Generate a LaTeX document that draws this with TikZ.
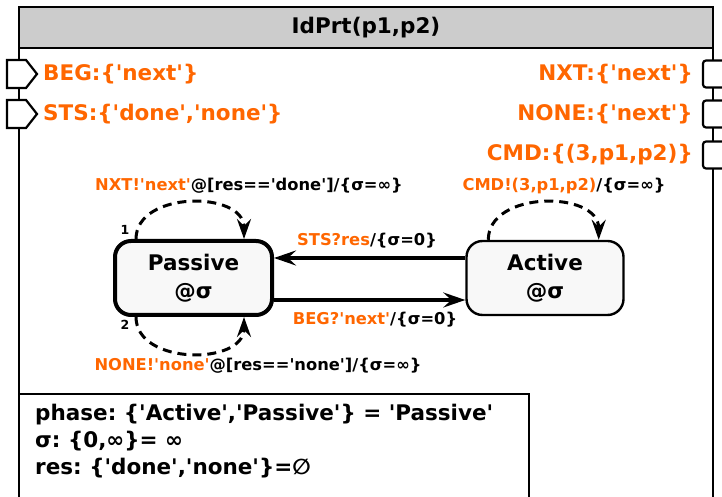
\documentclass[tikz,border=0pt]{standalone}
\usepackage{fontspec}
\setmainfont{DejaVu Sans}[Ligatures=TeXOff]
\usetikzlibrary{arrows.meta, positioning}

\definecolor{portorange}{HTML}{FF6600}
\definecolor{kopfgrau}{HTML}{CCCCCC}
\definecolor{zustandgrau}{HTML}{F8F8F8}

\newcommand{\grossschrift}{\bfseries\fontsize{21.5}{28}\selectfont}
\newcommand{\kleinschrift}{\bfseries\fontsize{16.3}{19}\selectfont}
\newcommand{\orng}[1]{\textcolor{portorange}{#1}}

\begin{document}
\frenchspacing
\begin{tikzpicture}[x=1pt, y=1pt, >={Stealth[length=22pt, width=15pt, inset=8pt]},
        zustand/.style={draw, line width=2.4pt, rounded corners=16pt, fill=zustandgrau,
            minimum width=157pt, minimum height=74pt, align=center, font=\grossschrift},
        startzustand/.style={zustand, line width=4pt},
        uebergang/.style={->, line width=3.2pt},
        schleife/.style={-{Stealth[length=20pt, width=14pt, inset=7pt, quick]}, line width=3pt, dash pattern=on 9pt off 6pt},
        beschriftung/.style={font=\kleinschrift, inner sep=0pt},
        portlabel/.style={font=\grossschrift, text=portorange, inner sep=0pt},
        zustvar/.style={font=\grossschrift, inner sep=0pt, anchor=west},
        nummer/.style={font=\bfseries\fontsize{12.5}{14}\selectfont, inner sep=0pt}]
        \useasboundingbox (0,0) rectangle (722,497);

        % Rahmen mit Kopfzeile
        \draw[line width=2.6pt, fill=kopfgrau] (19,449) rectangle (713,490);
        \draw[line width=2.6pt] (19,449) -- (19,-5) (713,449) -- (713,-5);
        \node[font=\grossschrift] (titel) at (366,469.5) {IdPrt(p1,p2)};

        % Eingangsports (links)
        \foreach \y in {423,383}
            \draw[line width=2.2pt, fill=white] (7,\y+14) -- (26,\y+14) -- (37,\y) -- (26,\y-14) -- (7,\y-14) -- cycle;
        \node[portlabel, anchor=west] (beg) at (43,423) {BEG:\{'next'\}};
        \node[portlabel, anchor=west] (sts) at (43,383) {STS:\{'done','none'\}};

        % Ausgangsports (rechts)
        \foreach \y in {423,383,342}
            \draw[line width=2.2pt, fill=white, rounded corners=3pt] (703,\y-13.5) rectangle (730,\y+13.5);
        \node[portlabel, anchor=east] (nxt) at (693,423) {NXT:\{'next'\}};
        \node[portlabel, anchor=east] (none) at (693,383) {NONE:\{'next'\}};
        \node[portlabel, anchor=east] (cmd) at (693,342) {CMD:\{(3,p1,p2)\}};

        % Zustaende
        \node[startzustand] (passive) at (193.5,219) {Passive\\@σ};
        \node[zustand] (active) at (545,219) {Active\\@σ};

        % Uebergaenge
        \draw[uebergang] ([yshift=20pt]active.west) -- ([yshift=20pt]passive.east);
        \node[beschriftung] (lbl-sts) at (367,256) {\orng{STS?res}/\{σ=0\}};
        \draw[uebergang] ([yshift=-22pt]passive.east) -- ([yshift=-22pt]active.west);
        \node[beschriftung] (lbl-beg) at (375,177) {\orng{BEG?'next'}/\{σ=0\}};

        % Schleifen
        \draw[schleife] ([xshift=23pt]passive.north west) to[out=90, in=90, looseness=1.15] ([xshift=-30pt]passive.north east);
        \node[beschriftung] (lbl-nxt) at (249,311) {\orng{NXT!'next'}@[res=='done']/\{σ=∞\}};
        \node[nummer] (nr1) at (125,267) {1};

        \draw[schleife] ([xshift=23pt]passive.south west) to[out=-90, in=-90, looseness=1.15] ([xshift=-30pt]passive.south east);
        \node[beschriftung] (lbl-none) at (258,131) {\orng{NONE!'none'}@[res=='none']/\{σ=∞\}};
        \node[nummer] (nr2) at (125,172) {2};

        \draw[schleife] ([xshift=23pt]active.north west) to[out=90, in=90, looseness=1.15] ([xshift=-26pt]active.north east);
        \node[beschriftung] (lbl-cmd) at (564,311) {\orng{CMD!(3,p1,p2)}/\{σ=∞\}};

        % Zustandsvariablen
        \draw[line width=2.6pt] (19,-5) rectangle (529,103);
        \node[zustvar] (phase) at (35,82) {phase: \{'Active','Passive'\} = 'Passive'};
        \node[zustvar] (sigma) at (35,56) {σ: \{0,∞\}= ∞};
        \node[zustvar] (res) at (35,29) {res: \{'done','none'\}=∅};
    \end{tikzpicture}
\end{document}
